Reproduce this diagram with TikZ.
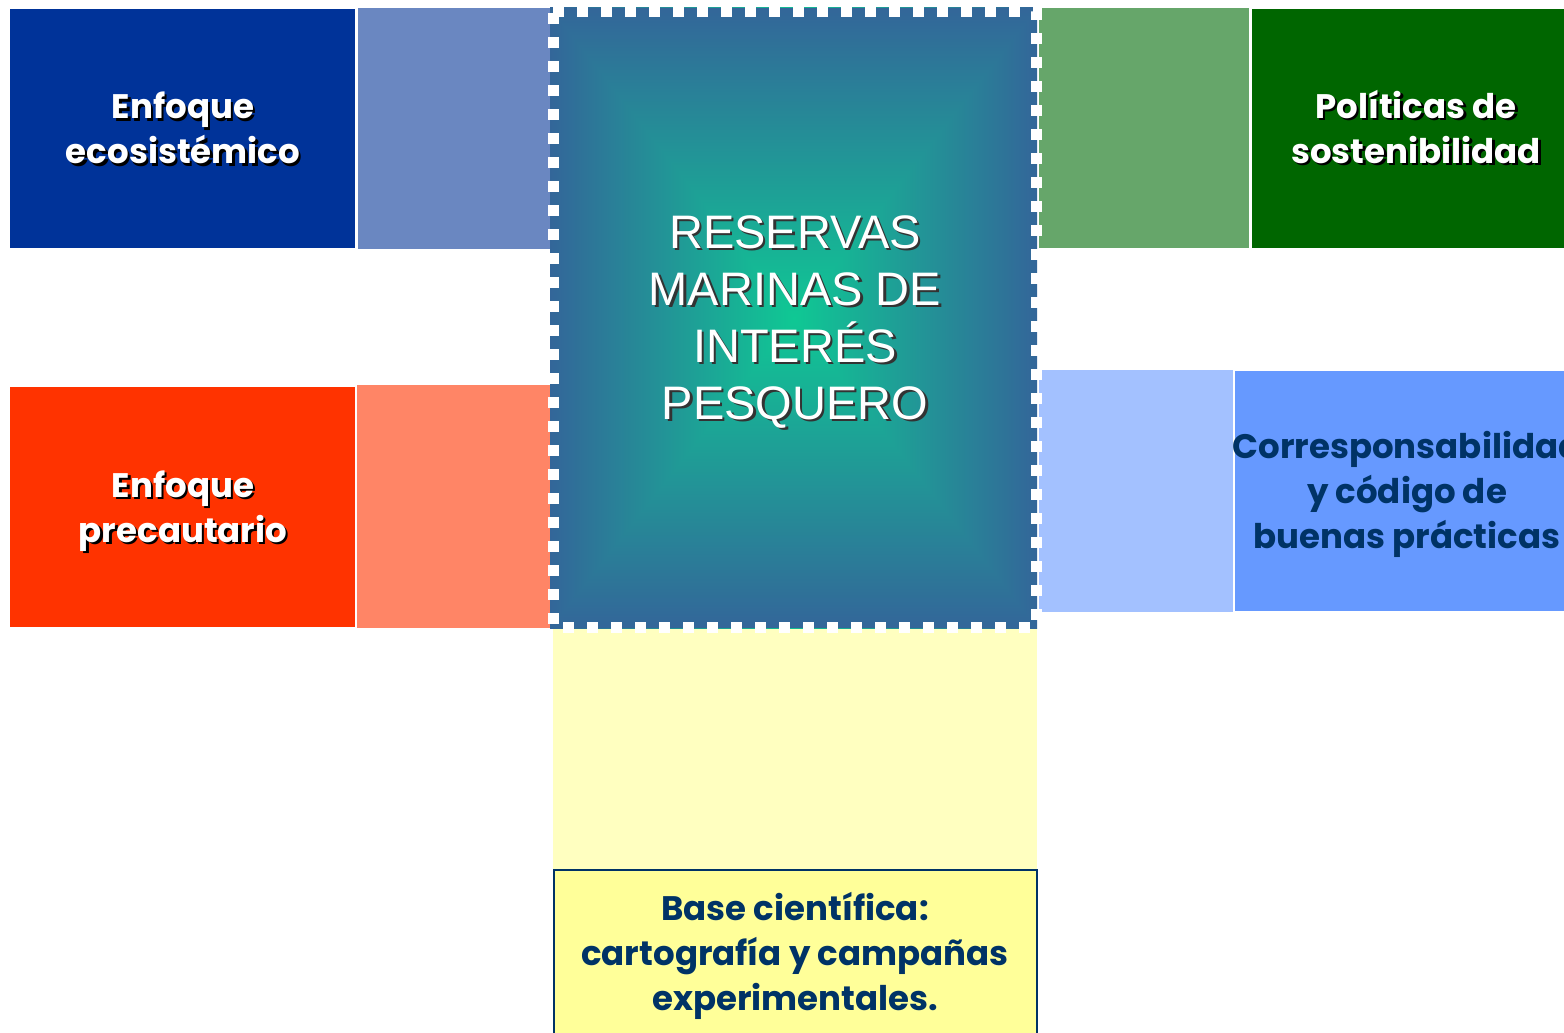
\documentclass[tikz,border=0pt]{standalone}
\usepackage{fontspec}
\setmainfont{Liberation Sans}
\newfontfamily\comicfont{Poppins}
\definecolor{dblue}{HTML}{003399}
\definecolor{lblue}{HTML}{6A87C1}
\definecolor{lgreen}{HTML}{66A66A}
\definecolor{dgreen}{HTML}{006600}
\definecolor{redc}{HTML}{FF3300}
\definecolor{salmon}{HTML}{FF8566}
\definecolor{peri}{HTML}{A3C1FF}
\definecolor{mblue}{HTML}{6699FF}
\definecolor{lyellow}{HTML}{FFFFC0}
\definecolor{yellowc}{HTML}{FFFF99}
\definecolor{navy}{HTML}{003366}
\definecolor{frameblue}{HTML}{336699}
\definecolor{coreteal}{HTML}{0FC894}
\begin{document}
\begin{tikzpicture}[x=1pt,y=-1pt,
  comictxt/.style={font=\comicfont\bfseries\fontsize{34}{45}\selectfont, align=center, inner sep=0pt},
  whitetxt/.style={comictxt, text=white},
  shadowtxt/.style={comictxt, text=black},
  navytxt/.style={comictxt, text=navy},
  coretxt/.style={font=\fontsize{47}{57}\selectfont, align=center, inner sep=0pt}]
\useasboundingbox (0,0) rectangle (1564,1033);
\clip (0,0) rectangle (1564,1033);
% side boxes
\fill[dblue] (10,9) rectangle (355,248);
\fill[lblue] (358,8) rectangle (551,249);
\fill[lgreen] (1039,8) rectangle (1249,248);
\fill[dgreen] (1252,9) rectangle (1564,248);
\fill[redc] (10,387) rectangle (355,627);
\fill[salmon] (357,385) rectangle (552,628);
\fill[peri] (1039,370) rectangle (1233,612);
\fill[mblue] (1235,371) rectangle (1564,611);
\fill[lyellow] (553,628) rectangle (1037,870);
\draw[navy, line width=2pt, fill=yellowc] (554,870) rectangle (1037,1040);
% central gradient (rectangular from centre)
\coordinate (cc) at (794,318);
\shade[left color=frameblue, right color=coreteal] (550,8) rectangle (794,628);
\shade[left color=coreteal, right color=frameblue] (794,8) rectangle (1037,628);
\shade[top color=frameblue, bottom color=coreteal] (550,8) -- (1037,8) -- (cc) -- cycle;
\shade[top color=coreteal, bottom color=frameblue] (550,628) -- (1037,628) -- (cc) -- cycle;
\draw[white, line width=11pt, dash pattern=on 11pt off 13pt] (553,12) -- (1036,12) -- (1036,627) -- (553,627) -- cycle;
% texts
\node[shadowtxt] (ecoS) at (185.5,130.5) {Enfoque\\ecosistémico};
\node[whitetxt] (eco) at (183,128) {Enfoque\\ecosistémico};
\node[shadowtxt] (polS) at (1418.5,129.5) {Políticas de\\sostenibilidad};
\node[whitetxt] (pol) at (1416,127) {Políticas de\\sostenibilidad};
\node[shadowtxt] (preS) at (185.5,513.5) {Enfoque\\precautario};
\node[whitetxt] (pre) at (183,511) {Enfoque\\precautario};
\node[navytxt] (cor) at (1407,494) {Corresponsabilidad\\y código de\\buenas prácticas};
\node[navytxt] (base) at (795,956) {Base científica:\\cartografía y campañas\\experimentales.};
\node[coretxt, text=black!80] (coreS) at (797.5,324.5) {RESERVAS\\MARINAS DE\\INTERÉS\\PESQUERO};
\node[coretxt, text=white] (core) at (795,322) {RESERVAS\\MARINAS DE\\INTERÉS\\PESQUERO};
\end{tikzpicture}
\end{document}
